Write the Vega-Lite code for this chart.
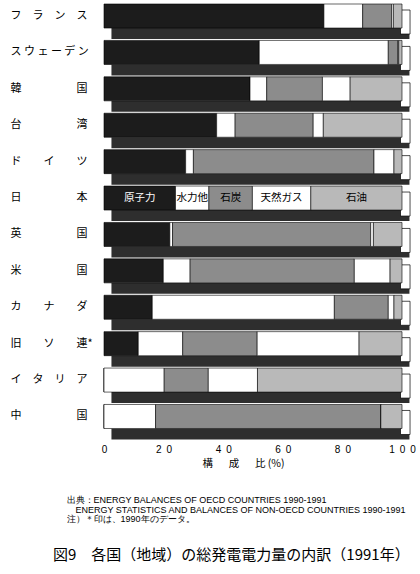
{
  "$schema": "https://vega.github.io/schema/vega-lite/v6.json",
  "width": 298,
  "height": 432.5,
  "autosize": "none",
  "padding": {"left": 104, "top": 0, "right": 18, "bottom": 141.5},
  "background": "white",
  "config": {"view": {"stroke": null}, "font": "Noto Sans CJK JP"},
  "title": {
    "text": ["\u200b\u3000\u2002出典：ENERGY BALANCES OF OECD COUNTRIES 1990-1991", "\u200b\u3000\u3000\u2002ENERGY STATISTICS AND BALANCES OF NON-OECD COUNTRIES 1990-1991", "\u200b\u3000\u2002注）＊印は、1990年のデータ。"],
    "subtitle": "図9　各国（地域）の総発電電力量の内訳（1991年）",
    "orient": "bottom",
    "anchor": "start",
    "frame": "group",
    "dx": -51,
    "offset": 27,
    "font": "Liberation Sans",
    "fontSize": 9,
    "fontWeight": "normal",
    "lineHeight": 9.7,
    "color": "black",
    "subtitleFont": "Noto Sans CJK JP",
    "subtitleFontSize": 15,
    "subtitleColor": "black",
    "subtitlePadding": 24
  },
  "datasets": {
    "countries": [
      {"country": "フランス"}, {"country": "スウェーデン"}, {"country": "韓国"}, {"country": "台湾"},
      {"country": "ドイツ"}, {"country": "日本"}, {"country": "英国"}, {"country": "米国"},
      {"country": "カナダ"}, {"country": "旧ソ連"}, {"country": "イタリア"}, {"country": "中国"}
    ],
    "rows": [
      {"country": "フランス", "source": "原子力", "i": 1, "value": 73.8},
      {"country": "フランス", "source": "水力他", "i": 2, "value": 13.0},
      {"country": "フランス", "source": "石炭", "i": 3, "value": 9.7},
      {"country": "フランス", "source": "天然ガス", "i": 4, "value": 0.6},
      {"country": "フランス", "source": "石油", "i": 5, "value": 2.9},
      {"country": "スウェーデン", "source": "原子力", "i": 1, "value": 52.1},
      {"country": "スウェーデン", "source": "水力他", "i": 2, "value": 43.3},
      {"country": "スウェーデン", "source": "石炭", "i": 3, "value": 3.2},
      {"country": "スウェーデン", "source": "天然ガス", "i": 4, "value": 0.3},
      {"country": "スウェーデン", "source": "石油", "i": 5, "value": 1.1},
      {"country": "韓国", "source": "原子力", "i": 1, "value": 49.0},
      {"country": "韓国", "source": "水力他", "i": 2, "value": 5.6},
      {"country": "韓国", "source": "石炭", "i": 3, "value": 18.7},
      {"country": "韓国", "source": "天然ガス", "i": 4, "value": 9.3},
      {"country": "韓国", "source": "石油", "i": 5, "value": 17.4},
      {"country": "台湾", "source": "原子力", "i": 1, "value": 37.8},
      {"country": "台湾", "source": "水力他", "i": 2, "value": 6.2},
      {"country": "台湾", "source": "石炭", "i": 3, "value": 26.2},
      {"country": "台湾", "source": "天然ガス", "i": 4, "value": 3.4},
      {"country": "台湾", "source": "石油", "i": 5, "value": 26.4},
      {"country": "ドイツ", "source": "原子力", "i": 1, "value": 27.4},
      {"country": "ドイツ", "source": "水力他", "i": 2, "value": 2.6},
      {"country": "ドイツ", "source": "石炭", "i": 3, "value": 60.6},
      {"country": "ドイツ", "source": "天然ガス", "i": 4, "value": 6.7},
      {"country": "ドイツ", "source": "石油", "i": 5, "value": 2.7},
      {"country": "日本", "source": "原子力", "i": 1, "value": 24.0},
      {"country": "日本", "source": "水力他", "i": 2, "value": 11.2},
      {"country": "日本", "source": "石炭", "i": 3, "value": 14.6},
      {"country": "日本", "source": "天然ガス", "i": 4, "value": 19.6},
      {"country": "日本", "source": "石油", "i": 5, "value": 30.6},
      {"country": "英国", "source": "原子力", "i": 1, "value": 22.1},
      {"country": "英国", "source": "水力他", "i": 2, "value": 0.9},
      {"country": "英国", "source": "石炭", "i": 3, "value": 66.5},
      {"country": "英国", "source": "天然ガス", "i": 4, "value": 0.9},
      {"country": "英国", "source": "石油", "i": 5, "value": 9.6},
      {"country": "米国", "source": "原子力", "i": 1, "value": 19.9},
      {"country": "米国", "source": "水力他", "i": 2, "value": 9.0},
      {"country": "米国", "source": "石炭", "i": 3, "value": 55.1},
      {"country": "米国", "source": "天然ガス", "i": 4, "value": 12.0},
      {"country": "米国", "source": "石油", "i": 5, "value": 4.0},
      {"country": "カナダ", "source": "原子力", "i": 1, "value": 16.2},
      {"country": "カナダ", "source": "水力他", "i": 2, "value": 61.1},
      {"country": "カナダ", "source": "石炭", "i": 3, "value": 18.1},
      {"country": "カナダ", "source": "天然ガス", "i": 4, "value": 1.9},
      {"country": "カナダ", "source": "石油", "i": 5, "value": 2.7},
      {"country": "旧ソ連", "source": "原子力", "i": 1, "value": 11.5},
      {"country": "旧ソ連", "source": "水力他", "i": 2, "value": 14.9},
      {"country": "旧ソ連", "source": "石炭", "i": 3, "value": 25.0},
      {"country": "旧ソ連", "source": "天然ガス", "i": 4, "value": 34.2},
      {"country": "旧ソ連", "source": "石油", "i": 5, "value": 14.4},
      {"country": "イタリア", "source": "原子力", "i": 1, "value": 0},
      {"country": "イタリア", "source": "水力他", "i": 2, "value": 20.2},
      {"country": "イタリア", "source": "石炭", "i": 3, "value": 14.8},
      {"country": "イタリア", "source": "天然ガス", "i": 4, "value": 16.5},
      {"country": "イタリア", "source": "石油", "i": 5, "value": 48.5},
      {"country": "中国", "source": "原子力", "i": 1, "value": 0},
      {"country": "中国", "source": "水力他", "i": 2, "value": 17.3},
      {"country": "中国", "source": "石炭", "i": 3, "value": 75.6},
      {"country": "中国", "source": "天然ガス", "i": 4, "value": 0},
      {"country": "中国", "source": "石油", "i": 5, "value": 7.1}
    ]
  },
  "encoding": {
    "y": {
      "field": "country",
      "type": "nominal",
      "sort": ["フランス", "スウェーデン", "韓国", "台湾", "ドイツ", "日本", "英国", "米国", "カナダ", "旧ソ連", "イタリア", "中国"],
      "scale": {"paddingInner": 0.34, "paddingOuter": 0.11},
      "axis": {
        "title": null,
        "domain": false,
        "ticks": false,
        "tickSize": 0,
        "labelAlign": "left",
        "labelPadding": 94,
        "labelFont": "Noto Sans CJK JP",
        "labelFontSize": 11,
        "labelColor": "black",
        "labelExpr": "{'フランス':'フ\u3000ラ\u3000ン\u3000ス','スウェーデン':'ス ウ ェ ー デ ン','韓国':'韓\u3000\u3000\u3000\u3000\u3000国','台湾':'台\u3000\u3000\u3000\u3000\u3000湾','ドイツ':'ド\u3000\u3000イ\u3000\u3000ツ','日本':'日\u3000\u3000\u3000\u3000\u3000本','英国':'英\u3000\u3000\u3000\u3000\u3000国','米国':'米\u3000\u3000\u3000\u3000\u3000国','カナダ':'カ\u3000\u3000ナ\u3000\u3000ダ','旧ソ連':'旧\u3000\u3000ソ\u3000\u3000連*','イタリア':'イ\u3000タ\u3000リ\u3000ア','中国':'中\u3000\u3000\u3000\u3000\u3000国'}[datum.label]"
      }
    }
  },
  "layer": [
    {
      "data": {"name": "countries"},
      "mark": {"type": "bar", "color": "#2e2e2e", "size": 11, "yOffset": 17.5, "clip": false},
      "encoding": {
        "x": {"datum": 2.5, "type": "quantitative"},
        "x2": {"datum": 102.5}
      }
    },
    {
      "data": {"name": "countries"},
      "mark": {"type": "bar", "fill": "white", "stroke": "black", "strokeWidth": 0.7, "yOffset": 6, "clip": false},
      "encoding": {
        "x": {"datum": 99.5, "type": "quantitative"},
        "x2": {"datum": 102.7}
      }
    },
    {
      "data": {"name": "rows"},
      "mark": {"type": "bar", "stroke": "black", "strokeWidth": 0.6},
      "encoding": {
        "x": {
          "field": "value",
          "type": "quantitative",
          "stack": "zero",
          "scale": {"domain": [0, 100], "nice": false},
          "axis": {
            "values": [0, 20, 40, 60, 80, 100],
            "domain": false,
            "ticks": false,
            "tickSize": 0,
            "grid": false,
            "labelPadding": 12,
            "labelFont": "Liberation Sans",
            "labelFontSize": 10,
            "labelColor": "black",
            "labelFlush": false,
            "labelExpr": "datum.value==100?'1\u20020\u20020':datum.value==0?'0':slice(datum.label,0,1)+'\u2002'+slice(datum.label,1)",
            "title": "構\u3000\u2002成\u3000\u2002比 (%)",
            "titleFont": "Noto Sans CJK JP",
            "titleFontSize": 10.5,
            "titleFontWeight": "normal",
            "titleColor": "black",
            "titleX": 139,
            "titleY": 31,
            "titleAlign": "center",
            "titleBaseline": "middle"
          }
        },
        "color": {
          "field": "source",
          "type": "nominal",
          "scale": {
            "domain": ["原子力", "水力他", "石炭", "天然ガス", "石油"],
            "range": ["#1c1c1c", "#ffffff", "#8c8c8c", "#ffffff", "#b9b9b9"]
          },
          "legend": null
        },
        "order": {"field": "i", "type": "quantitative"}
      }
    },
    {
      "data": {"name": "rows"},
      "transform": [
        {"filter": "datum.country === '日本'"},
        {"stack": "value", "groupby": ["country"], "sort": [{"field": "i"}], "as": ["v0", "v1"]},
        {"calculate": "(datum.v0 + datum.v1) / 2", "as": "mid"}
      ],
      "mark": {"type": "text", "fontSize": 10.5, "font": "Noto Sans CJK JP"},
      "encoding": {
        "x": {"field": "mid", "type": "quantitative"},
        "text": {"field": "source"},
        "color": {"condition": {"test": "datum.source === '原子力'", "value": "white"}, "value": "black"}
      }
    }
  ]
}
